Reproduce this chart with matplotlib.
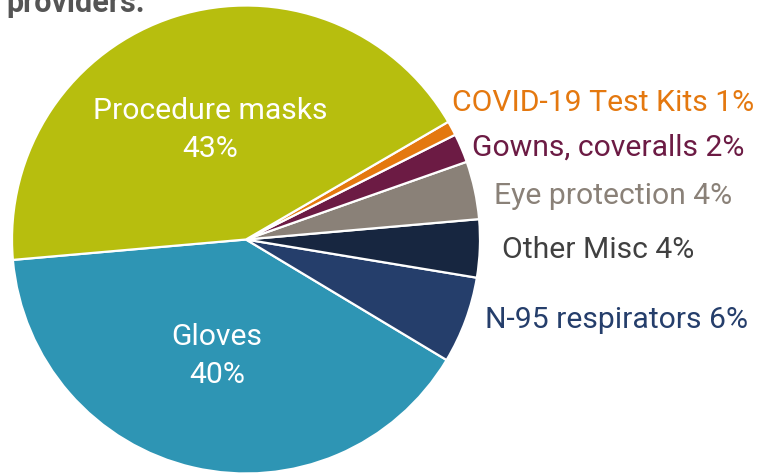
import matplotlib
matplotlib.use("Agg")
import matplotlib.pyplot as plt

# PPE share by category
categories = ["Gloves", "N-95 respirators", "Other Misc", "Eye protection",
              "Gowns, coveralls", "COVID-19 Test Kits", "Procedure masks"]
shares = [40, 6, 4, 4, 2, 1, 43]
colors = ["#2E95B4", "#253E6B", "#172640", "#8A8178",
          "#6C1B44", "#E4780F", "#B7BE0E"]
label_colors = ["#FFFFFF", "#253E6B", "#404040", "#8A8178",
                "#6C1B44", "#E4780F", "#FFFFFF"]

plt.rcParams["font.family"] = ["Roboto", "DejaVu Sans"]

W, H = 768, 474
fig = plt.figure(figsize=(W / 100, H / 100), dpi=100)

cx, cy, r = 246, 239.5, 234
ax = fig.add_axes([(cx - r) / W, (H - cy - r) / H, 2 * r / W, 2 * r / H])
wedges, _ = ax.pie(shares, colors=colors, startangle=185, counterclock=True,
                   radius=1.0, wedgeprops=dict(edgecolor="white", linewidth=1.6))
ax.set_xlim(-1, 1)
ax.set_ylim(-1, 1)
ax.set_aspect("equal")
ax.axis("off")

fs = 21.7

def to_fig(px, py):
    return px / W, 1 - py / H

# inside labels
for name, val, pos in [("Procedure masks", shares[6], (210, 130)),
                       ("Gloves", shares[0], (217, 356))]:
    fx, fy = to_fig(*pos)
    fig.text(fx, fy, f"{name}\n{val}%", color="white", fontsize=fs,
             ha="center", va="center", linespacing=1.42)

# outside labels: (index, left x, center y)
outside = [(5, 452, 103), (4, 472, 148), (3, 494, 196),
           (2, 502, 250), (1, 485, 320)]
for i, px, py in outside:
    fx, fy = to_fig(px, py)
    fig.text(fx, fy, f"{categories[i]} {shares[i]}%", color=label_colors[i],
             fontsize=fs, ha="left", va="center")

fx, fy = to_fig(6, 12)
fig.text(fx, fy, "providers.", color="#555555", fontsize=22,
         fontweight="bold", ha="left", va="baseline")

fig.savefig("out.png", dpi=100)
